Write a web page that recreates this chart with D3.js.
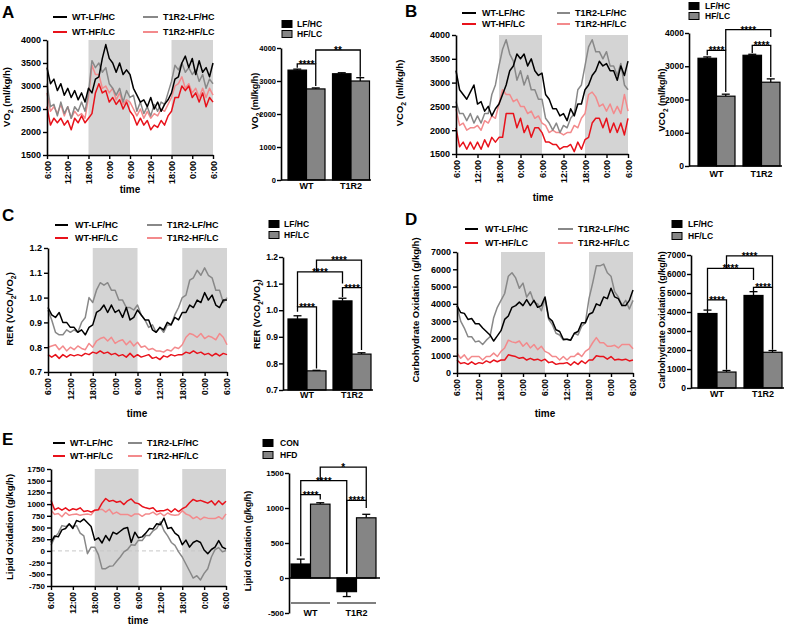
<!DOCTYPE html>
<html><head><meta charset="utf-8">
<script src="https://cdn.jsdelivr.net/npm/d3@7"></script>
<style>
body{margin:0;background:#fff;}
svg{display:block;font-family:Arial,"Liberation Sans",sans-serif;font-weight:bold;}
</style>
</head><body>
<svg id="c" width="786" height="625"></svg>
<script>
// ---------------- DATA ----------------
const hours = d3.range(0, 49);               // hourly samples, hour 0 = 6:00 day 1
const tickHours = [0, 6, 12, 18, 24, 30, 36, 42, 48];
const timeLabels = ["6:00","12:00","18:00","0:00","6:00","12:00","18:00","0:00","6:00"];
const nightStart = [12, 36];
const nightEnd = [24, 48];
const seriesNames = ["WT-LF/HC", "WT-HF/LC", "T1R2-LF/HC", "T1R2-HF/LC"];

// Panel A: VO2
const vo2_WT_LFHC = [3400,3050,3150,2900,3050,2800,2950,2750,2900,2700,2850,2650,2950,2850,3150,3200,3600,3900,3600,3500,3300,3500,3250,3350,3250,2950,2800,2650,2700,2550,2750,2500,2650,2450,2600,2700,2850,3150,3200,3500,3650,3400,3600,3250,3550,3300,3400,3200,3500];
const vo2_WT_HFLC = [2550,2150,2300,2200,2300,2150,2250,2050,2300,2200,2350,2200,2300,2400,2850,3050,2850,2900,2650,2750,2600,2700,2500,2650,2450,2350,2150,2300,2150,2250,2050,2150,2100,2250,2150,2350,2450,2750,2750,3000,2900,3000,2750,2850,2650,2850,2550,2750,2650];
const vo2_T1R2_LFHC = [3050,2550,2600,2350,2650,2400,2550,2300,2550,2450,2650,2450,2850,3550,3400,3500,3300,3400,3050,2950,2800,2950,2650,2900,2750,2800,2450,2650,2400,2550,2350,2600,2450,2650,2600,2850,3100,3450,3350,3500,3300,3400,3250,3350,3100,3250,2950,3150,3050];
const vo2_T1R2_HFLC = [2850,2450,2550,2400,2600,2350,2550,2300,2450,2350,2400,2300,2750,3450,3250,3250,2950,3000,2850,2950,2700,2850,2600,2700,2650,2500,2350,2500,2300,2450,2300,2400,2350,2500,2450,2600,2750,3000,3050,3200,2950,3050,2850,2950,2750,2950,2750,2950,2800];

// Panel B: VCO2
const vco2_WT_LFHC = [3250,2850,2750,2650,2800,2950,2550,2600,2400,2500,2300,2450,2550,2750,2950,3250,3350,3600,3500,3600,3350,3500,3250,3150,3200,2750,2650,2450,2450,2300,2350,2200,2450,2300,2550,2550,2850,2950,3150,3250,3450,3350,3400,3250,3250,3050,3350,3150,3450];
const vco2_WT_HFLC = [2050,1650,1750,1600,1750,1600,1750,1600,1800,1650,1850,1750,1850,1850,2350,2350,2350,2050,2250,1950,2100,1850,2050,2050,1950,1750,1750,1700,1700,1600,1650,1650,1700,1550,1750,1600,1800,1850,2150,2250,2250,2050,2250,1950,2150,1950,2150,1900,2250];
const vco2_T1R2_LFHC = [2600,2350,2350,2200,2350,2150,2300,2150,2350,2350,2750,2950,3350,3700,3900,3600,3450,3050,3250,2950,3150,2850,2850,2650,2650,2250,2150,2000,2150,1950,2100,2050,2250,2350,2850,2950,3350,3750,3900,3650,3650,3500,3650,3350,3350,3150,3400,2950,2850];
const vco2_T1R2_HFLC = [2450,2100,2150,2000,2050,2050,2100,2000,2200,2150,2300,2250,2550,2850,2750,2750,2600,2650,2500,2500,2350,2400,2250,2300,2150,2100,1950,2000,1950,1950,1900,1950,1950,2100,2050,2250,2350,2750,2800,2700,2500,2550,2400,2550,2350,2500,2350,2750,2400];

// Panel C: RER
const rer_WT_LFHC = [0.96,0.93,0.92,0.94,0.90,0.90,0.88,0.88,0.86,0.87,0.85,0.88,0.89,0.94,0.95,0.97,0.94,0.97,0.94,0.95,0.92,0.96,0.91,0.92,0.95,0.93,0.91,0.91,0.87,0.86,0.88,0.87,0.90,0.89,0.92,0.91,0.94,0.94,0.97,0.96,0.99,0.98,1.02,0.99,1.01,0.97,0.96,0.99,0.99];
const rer_WT_HFLC = [0.77,0.76,0.77,0.755,0.77,0.76,0.77,0.765,0.77,0.765,0.775,0.77,0.78,0.775,0.785,0.775,0.78,0.77,0.775,0.765,0.77,0.76,0.775,0.76,0.77,0.76,0.765,0.77,0.755,0.76,0.75,0.765,0.76,0.77,0.765,0.77,0.77,0.78,0.775,0.785,0.775,0.78,0.77,0.775,0.765,0.775,0.765,0.775,0.77];
const rer_T1R2_LFHC = [0.95,0.91,0.86,0.85,0.85,0.87,0.86,0.87,0.86,0.90,0.92,1.00,0.98,1.03,1.06,1.05,1.06,1.03,1.03,0.99,0.99,0.96,0.96,0.95,0.97,0.93,0.91,0.88,0.89,0.86,0.88,0.86,0.89,0.89,0.93,0.96,1.00,1.01,1.07,1.08,1.11,1.09,1.12,1.09,1.08,1.03,1.03,0.98,1.00];
const rer_T1R2_HFLC = [0.80,0.805,0.81,0.79,0.805,0.785,0.80,0.79,0.805,0.795,0.79,0.815,0.80,0.825,0.835,0.84,0.825,0.84,0.815,0.825,0.83,0.81,0.825,0.805,0.82,0.80,0.805,0.79,0.795,0.785,0.785,0.78,0.79,0.785,0.80,0.795,0.81,0.84,0.855,0.85,0.84,0.855,0.835,0.845,0.84,0.83,0.855,0.84,0.81];

// Panel D: Carbohydrate oxidation
const cho_WT_LFHC = [3900,3500,3450,3100,3150,2850,2850,2600,2400,2200,1850,2150,2450,3100,3300,3800,3900,4100,3900,4250,3900,4200,3800,3900,4400,3200,3000,2500,2400,1950,1950,1900,2300,2400,2900,2900,3400,3500,4000,3900,4400,4300,4900,4400,4300,3900,3900,4200,4800];
const cho_WT_HFLC = [750,550,600,500,650,500,600,550,700,600,750,650,750,750,1050,1000,950,850,900,750,850,750,800,700,800,600,650,500,550,550,600,450,650,500,700,550,750,750,1000,950,950,800,950,750,800,750,800,700,750];
const cho_T1R2_LFHC = [3900,3000,2600,2100,2100,1800,1850,1650,1900,2100,3200,3800,4200,4600,5600,5800,5500,4900,5200,4400,4700,4100,4000,3600,4300,3100,2800,2300,2200,1900,1950,1900,2300,2200,2700,2900,4300,5200,6200,6200,6300,5800,5600,4700,4400,3900,4200,3700,4200];
const cho_T1R2_HFLC = [1150,850,1050,750,950,950,950,750,950,950,1150,950,1250,1450,1900,1800,1750,1850,1550,1750,1450,1650,1350,1550,1250,1150,950,950,750,950,750,950,950,1150,950,1250,1400,1750,2050,1750,1750,1550,1550,1600,1450,1650,1650,1650,1400];

// Panel E: Lipid oxidation
const lip_WT_LFHC = [180,320,300,450,480,580,480,650,620,680,600,520,230,280,170,330,220,400,360,420,480,500,180,400,280,300,380,480,470,580,560,700,480,500,380,320,130,230,80,180,220,180,20,-60,30,80,220,80,40];
const lip_WT_HFLC = [1080,880,920,870,920,860,900,880,920,840,860,830,870,880,1020,1120,1060,1080,1040,1060,990,1070,1110,1030,1010,950,920,900,920,840,860,860,890,830,900,840,900,940,1030,1100,1060,1080,1050,1020,1070,980,1070,990,1060];
const lip_T1R2_LFHC = [120,280,380,540,520,560,520,540,380,320,-60,80,80,-80,-380,-380,-330,-320,-220,-130,-20,30,130,120,230,220,330,330,430,480,620,430,320,180,120,-20,-130,-280,-430,-580,-530,-620,-480,-380,-130,30,70,-20,10];
const lip_T1R2_HFLC = [870,780,800,730,820,760,780,790,760,780,790,770,870,880,890,830,890,790,830,780,780,780,740,790,790,740,790,790,830,770,810,750,810,770,760,770,860,790,760,690,730,670,720,700,690,690,730,680,790];

// Bar charts (order: WT-LF/HC, WT-HF/LC, T1R2-LF/HC, T1R2-HF/LC)
const barGroups = ["WT", "T1R2"];
const diets = ["LF/HC", "HF/LC"];
const lipidLegend = ["CON", "HFD"];
const vo2Bars = [3330, 2760, 3220, 3000];
const vo2Err = [30, 30, 30, 100];
const vco2Bars = [3240, 2100, 3330, 2520];
const vco2Err = [40, 60, 30, 100];
const rerBars = [0.967, 0.772, 1.035, 0.835];
const rerErr = [0.012, 0.002, 0.01, 0.005];
const choBars = [3920, 840, 4870, 1880];
const choErr = [180, 80, 200, 90];
const lipBars = [200, 1055, -195, 860];
const lipErr = [70, 20, 70, 50];

// significance annotations: [barA, barB, bracket value, left-leg end, right-leg end, label]
const vo2Sig = [[0,1,3520,3400,2850,"****"],[1,3,3940,3520,3130,"**"]];
const vco2Sig = [[0,1,3480,3330,2225,"****"],[2,3,3630,3400,2680,"****"],[1,3,4100,3480,3880,"****"]];
const rerSig = [[0,1,1.0125,0.994,0.781,"****"],[2,3,1.085,1.05,0.85,"****"],[0,2,1.144,1.0125,1.10,"****"],[1,3,1.188,1.144,1.085,"****"]];
const choSig = [[0,1,4640,4110,960,"****"],[2,3,5300,5075,2010,"****"],[0,2,6300,4640,5690,"****"],[1,3,6950,6300,5300,"****"]];
const lipSig = [[0,1,1190,310,1120,"****"],[2,3,1110,60,1000,"****"],[0,2,1390,1190,60,"****"],[1,3,1585,1390,1110,"*"]];

// ---------------- DRAWING ----------------
const svg = d3.select("#c");
const lineColors = ["#000000", "#e8121b", "#888888", "#f38a8c"];
const barColors = ["#000000", "#858585"];

function labelText(sel, segs, fs) {
  let down = false;
  segs.forEach(s => {
    const t = sel.append("tspan").text(s[0]);
    if (s[1]) { t.attr("font-size", fs * 0.72).attr("dy", 3); down = true; }
    else if (down) { t.attr("dy", -3); down = false; }
  });
}

function styleAxis(g, fs) {
  g.attr("font-family", null).attr("font-size", fs);
  g.select(".domain").attr("stroke", "#000").attr("stroke-width", 1.6);
  g.selectAll(".tick line").attr("stroke", "#000").attr("stroke-width", 1.4);
  g.selectAll(".tick text").attr("fill", "#000").attr("font-weight", "bold");
}

function linePanel(c, series) {
  const g = svg.append("g");
  const x = d3.scaleLinear().domain([0, 48]).range([c.x0, c.x1]);
  const y = d3.scaleLinear().domain(c.domain).range([c.yBot, c.yTop]);
  nightStart.forEach((s, i) => {
    g.append("rect").attr("x", x(s)).attr("y", c.yTop)
      .attr("width", x(nightEnd[i]) - x(s)).attr("height", c.yBot - c.yTop)
      .attr("fill", "#d4d4d4");
  });
  if (c.zero) {
    g.append("line").attr("x1", c.x0).attr("x2", c.x1).attr("y1", y(0)).attr("y2", y(0))
      .attr("stroke", "#c8c8c8").attr("stroke-width", 1).attr("stroke-dasharray", "4,3");
  }
  const line = d3.line().x((d, j) => x(hours[j])).y(d => y(d));
  [3, 2, 1, 0].forEach(i => {
    g.append("path").datum(series[i]).attr("d", line)
      .attr("fill", "none").attr("stroke", lineColors[i]).attr("stroke-width", 1.5)
      .attr("stroke-linejoin", "round");
  });
  const ya = g.append("g").attr("transform", `translate(${c.x0},0)`)
    .call(d3.axisLeft(y).tickValues(c.ticks).tickSize(4).tickSizeOuter(0).tickPadding(2).tickFormat(c.fmt));
  styleAxis(ya, c.tickFs);
  const xa = g.append("g").attr("transform", `translate(0,${c.yBot})`)
    .call(d3.axisBottom(x).tickValues(tickHours).tickSize(4).tickSizeOuter(0).tickFormat((d, i) => timeLabels[i]));
  styleAxis(xa, c.xFs);
  xa.selectAll(".tick text").attr("transform", "rotate(-90)").attr("text-anchor", "end")
    .attr("x", -6).attr("y", 0).attr("dy", "0.35em");
  svg.append("text").attr("x", c.letter[1]).attr("y", c.letter[2]).attr("font-size", 17).text(c.letter[0]);
  const yl = svg.append("text").attr("transform", `translate(${c.ylab[0]},${c.ylab[1]}) rotate(-90)`)
    .attr("text-anchor", "middle").attr("font-size", c.labFs);
  labelText(yl, c.ylabel, c.labFs);
  svg.append("text").attr("x", c.time[0]).attr("y", c.time[1]).attr("text-anchor", "middle")
    .attr("font-size", 10).text("time");
  const cols = [[c.lg.l1, c.lg.t1], [c.lg.l2, c.lg.t2]];
  seriesNames.forEach((n, i) => {
    const col = cols[Math.floor(i / 2)], ry = c.lg.rows[i % 2];
    svg.append("line").attr("x1", col[0][0]).attr("x2", col[0][1]).attr("y1", ry).attr("y2", ry)
      .attr("stroke", lineColors[i]).attr("stroke-width", 2);
    svg.append("text").attr("x", col[1]).attr("y", ry + 3.3).attr("font-size", c.lg.fs).text(n);
  });
}

function barPanel(c, vals, errs, sigs, legendNames) {
  const g = svg.append("g");
  const y = d3.scaleLinear().domain(c.domain).range([c.yBot, c.yTop]);
  const base = Math.max(c.domain[0], 0);
  const gx = d3.scaleBand().domain(barGroups)
    .range([c.bx0, c.bx0 + 4 * c.bw + c.gap]).paddingInner(c.gap / (2 * c.bw + c.gap));
  const sx = d3.scaleBand().domain(diets).range([0, gx.bandwidth()]);
  const bx = i => gx(barGroups[Math.floor(i / 2)]) + sx(diets[i % 2]);
  const cx = i => bx(i) + sx.bandwidth() / 2;
  vals.forEach((v, i) => {
    const top = Math.min(y(v), y(base)), h = Math.abs(y(v) - y(base));
    const e = v >= base ? v + errs[i] : v - errs[i];
    g.append("line").attr("x1", cx(i)).attr("x2", cx(i)).attr("y1", y(v)).attr("y2", y(e))
      .attr("stroke", "#000").attr("stroke-width", 1.3);
    g.append("line").attr("x1", cx(i) - 4).attr("x2", cx(i) + 4).attr("y1", y(e)).attr("y2", y(e))
      .attr("stroke", "#000").attr("stroke-width", 1.3);
    g.append("rect").attr("x", bx(i)).attr("y", top).attr("width", sx.bandwidth()).attr("height", h)
      .attr("fill", barColors[i % 2]).attr("stroke", "#000").attr("stroke-width", 1.2);
  });
  g.append("line").attr("x1", c.axisX).attr("x2", c.axisEnd).attr("y1", y(base)).attr("y2", y(base))
    .attr("stroke", "#000").attr("stroke-width", 1.6);
  const ya = g.append("g").attr("transform", `translate(${c.axisX},0)`)
    .call(d3.axisLeft(y).tickValues(c.ticks).tickSize(4).tickSizeOuter(0).tickPadding(1).tickFormat(c.fmt));
  styleAxis(ya, c.tickFs);
  barGroups.forEach(gr => {
    g.append("text").attr("x", gx(gr) + gx.bandwidth() / 2).attr("y", c.catY).attr("text-anchor", "middle")
      .attr("font-size", 9).text(gr);
    if (c.underY) {
      g.append("line").attr("x1", gx(gr)).attr("x2", gx(gr) + gx.bandwidth())
        .attr("y1", c.underY).attr("y2", c.underY).attr("stroke", "#000").attr("stroke-width", 1.2);
    }
  });
  sigs.forEach(s => {
    const xa = cx(s[0]), xb = cx(s[1]), yy = y(s[2]);
    g.append("path").attr("d", `M${xa},${y(s[3])}V${yy}H${xb}V${y(s[4])}`)
      .attr("fill", "none").attr("stroke", "#000").attr("stroke-width", 1.3);
    g.append("text").attr("x", (xa + xb) / 2).attr("y", yy + 4).attr("text-anchor", "middle")
      .attr("font-size", 10).text(s[5]);
  });
  legendNames.forEach((n, i) => {
    const ry = c.lg.rows[i];
    svg.append("rect").attr("x", c.lg.x).attr("y", ry - 3.5).attr("width", 10).attr("height", 7)
      .attr("fill", barColors[i]).attr("stroke", "#000").attr("stroke-width", 1);
    svg.append("text").attr("x", c.lg.tx).attr("y", ry + 3).attr("font-size", 8.5).text(n);
  });
  const yl = svg.append("text").attr("transform", `translate(${c.ylab[0]},${c.ylab[1]}) rotate(-90)`)
    .attr("text-anchor", "middle").attr("font-size", c.labFs);
  labelText(yl, c.ylabel, c.labFs);
}

const intFmt = d => String(d);
const f1 = d3.format(".1f");

// Panel A
linePanel({x0:47, x1:213, yTop:40, yBot:155, domain:[1500,4000], ticks:[1500,2000,2500,3000,3500,4000],
  fmt:intFmt, tickFs:9, xFs:9, letter:["A",2,18], ylab:[10,97], labFs:9.5,
  ylabel:[["VO"],["2",true],[" (ml/kg/h)"]], time:[130,193],
  lg:{rows:[17,32], l1:[53,67], t1:72, l2:[143,158], t2:163, fs:9}},
  [vo2_WT_LFHC, vo2_WT_HFLC, vo2_T1R2_LFHC, vo2_T1R2_HFLC]);
barPanel({axisX:281, yTop:48, yBot:180, domain:[0,4000], ticks:[0,1000,2000,3000,4000], fmt:intFmt,
  tickFs:7.5, bx0:288, bw:18.5, gap:7.5, axisEnd:371, catY:189,
  lg:{x:282, tx:297, rows:[24,34]}, ylab:[258,101], labFs:9, ylabel:[["VO"],["2",true],[" (ml/kg/h)"]]},
  vo2Bars, vo2Err, vo2Sig, diets);

// Panel B
linePanel({x0:456, x1:628, yTop:35, yBot:154, domain:[1500,4000], ticks:[1500,2000,2500,3000,3500,4000],
  fmt:intFmt, tickFs:9, xFs:9, letter:["B",405,17], ylab:[403,93], labFs:9.5,
  ylabel:[["VCO"],["2",true],[" (ml/kg/h)"]], time:[543,201],
  lg:{rows:[13,24], l1:[462,476], t1:482, l2:[557,570], t2:575, fs:9}},
  [vco2_WT_LFHC, vco2_WT_HFLC, vco2_T1R2_LFHC, vco2_T1R2_HFLC]);
barPanel({axisX:689, yTop:33, yBot:166, domain:[0,4000], ticks:[0,1000,2000,3000,4000], fmt:intFmt,
  tickFs:8.5, bx0:698, bw:18.5, gap:8, axisEnd:782, catY:177,
  lg:{x:689, tx:705, rows:[6,16]}, ylab:[665,100], labFs:9, ylabel:[["VCO"],["2",true],[" (ml/kg/h)"]]},
  vco2Bars, vco2Err, vco2Sig, diets);

// Panel C
linePanel({x0:48, x1:227, yTop:248, yBot:372, domain:[0.7,1.2], ticks:[0.7,0.8,0.9,1.0,1.1,1.2],
  fmt:f1, tickFs:9, xFs:8.5, letter:["C",2,221], ylab:[13,309], labFs:9.5,
  ylabel:[["RER (VCO"],["2",true],["/VO"],["2",true],[")"]], time:[137,417],
  lg:{rows:[225,238], l1:[55,68], t1:75, l2:[147,162], t2:167, fs:9}},
  [rer_WT_LFHC, rer_WT_HFLC, rer_T1R2_LFHC, rer_T1R2_HFLC]);
barPanel({axisX:283, yTop:257, yBot:390, domain:[0.7,1.2], ticks:[0.7,0.8,0.9,1.0,1.1,1.2], fmt:f1,
  tickFs:8.5, bx0:288, bw:19, gap:7, axisEnd:373, catY:398,
  lg:{x:269, tx:284, rows:[224,235]}, ylab:[260,314], labFs:9, ylabel:[["RER (VCO"],["2",true],["/VO"],["2",true],[")"]]},
  rerBars, rerErr, rerSig, diets);

// Panel D
linePanel({x0:457, x1:633, yTop:252, yBot:373, domain:[0,7000], ticks:[0,1000,2000,3000,4000,5000,6000,7000],
  fmt:intFmt, tickFs:9, xFs:8.5, letter:["D",405,225], ylab:[419,310], labFs:9.5,
  ylabel:[["Carbohydrate Oxidation (g/kg/h)"]], time:[545,417],
  lg:{rows:[229,243], l1:[465,478], t1:485, l2:[558,573], t2:578, fs:9}},
  [cho_WT_LFHC, cho_WT_HFLC, cho_T1R2_LFHC, cho_T1R2_HFLC]);
barPanel({axisX:691, yTop:255, yBot:388, domain:[0,7000], ticks:[0,1000,2000,3000,4000,5000,6000,7000], fmt:intFmt,
  tickFs:8.5, bx0:698, bw:19, gap:8, axisEnd:784, catY:397,
  lg:{x:672, tx:688, rows:[224,236]}, ylab:[665,320], labFs:9, ylabel:[["Carbohydrate Oxidation (g/kg/h)"]]},
  choBars, choErr, choSig, diets);

// Panel E
linePanel({x0:51, x1:226, yTop:469, yBot:586, domain:[-750,1750],
  ticks:[-750,-500,-250,0,250,500,750,1000,1250,1500,1750],
  fmt:intFmt, tickFs:8, xFs:8.5, letter:["E",2,445], ylab:[13,527], labFs:9.5, zero:true,
  ylabel:[["Lipid Oxidation (g/kg/h)"]], time:[138,624],
  lg:{rows:[443,456], l1:[53,65], t1:70, l2:[128,142], t2:147, fs:9}},
  [lip_WT_LFHC, lip_WT_HFLC, lip_T1R2_LFHC, lip_T1R2_HFLC]);
barPanel({axisX:289, yTop:473, yBot:613, domain:[-500,1500], ticks:[-500,0,500,1000,1500], fmt:intFmt,
  tickFs:8, bx0:291, bw:19.5, gap:7, axisEnd:380, catY:616, underY:603,
  lg:{x:263, tx:280, rows:[443,455]}, ylab:[251,541], labFs:9, ylabel:[["Lipid Oxidation (g/kg/h)"]]},
  lipBars, lipErr, lipSig, lipidLegend);
</script>
</body></html>
